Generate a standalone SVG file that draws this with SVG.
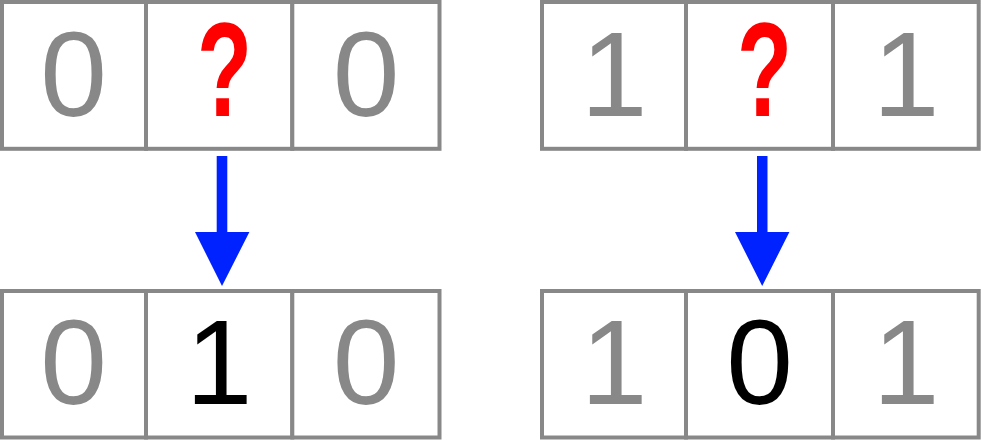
<svg xmlns="http://www.w3.org/2000/svg" width="981" height="440" viewBox="0 0 981 440">
<style>
.cell{fill:#fff;stroke:#888;stroke-width:4}
.d{font-family:"Liberation Sans",Arial,sans-serif;font-size:120px;text-anchor:middle}
.g{fill:#888}
.k{fill:#000}
.q{font-family:"Liberation Sans",Arial,sans-serif;font-size:133px;font-weight:bold;fill:#ff0000;text-anchor:middle}
.arr{fill:#0022ff}
</style>
<rect width="981" height="440" fill="#fff"/>
<g id="top-left">
<rect class="cell" x="2" y="2" width="144" height="146.8"/>
<rect class="cell" x="146" y="2" width="146.3" height="146.8"/>
<rect class="cell" x="292.3" y="2" width="147.2" height="146.8"/>
<text class="d g" x="73.5" y="115.5">0</text>
<text class="q" x="224.5" y="116" textLength="55" lengthAdjust="spacingAndGlyphs">?</text>
<text class="d g" x="366.2" y="115.5">0</text>
</g>
<g id="top-right">
<rect class="cell" x="542" y="2" width="144" height="146.8"/>
<rect class="cell" x="686" y="2" width="147" height="146.8"/>
<rect class="cell" x="833" y="2" width="145.7" height="146.8"/>
<text class="d g" x="614" y="115.5">1</text>
<text class="q" x="764.5" y="116" textLength="55" lengthAdjust="spacingAndGlyphs">?</text>
<text class="d g" x="906" y="115.5">1</text>
</g>
<g id="bottom-left">
<rect class="cell" x="2" y="291" width="144" height="146.5"/>
<rect class="cell" x="146" y="291" width="146.3" height="146.5"/>
<rect class="cell" x="292.3" y="291" width="147.2" height="146.5"/>
<text class="d g" x="73.5" y="404.3">0</text>
<text class="d k" x="219.2" y="404.3">1</text>
<text class="d g" x="366.2" y="404.3">0</text>
</g>
<g id="bottom-right">
<rect class="cell" x="542" y="291" width="144" height="146.5"/>
<rect class="cell" x="686" y="291" width="147" height="146.5"/>
<rect class="cell" x="833" y="291" width="145.7" height="146.5"/>
<text class="d g" x="614" y="404.3">1</text>
<text class="d k" x="759.5" y="404.3">0</text>
<text class="d g" x="906" y="404.3">1</text>
</g>
<g id="connectors">
<path class="arr" d="M216.7,156 H227.3 V232 H249.4 L222,286 L195,232 H216.7 Z"/>
<path class="arr" d="M757,156 H767.5 V232 H789.4 L762.2,286 L735,232 H757 Z"/>
</g>
</svg>
